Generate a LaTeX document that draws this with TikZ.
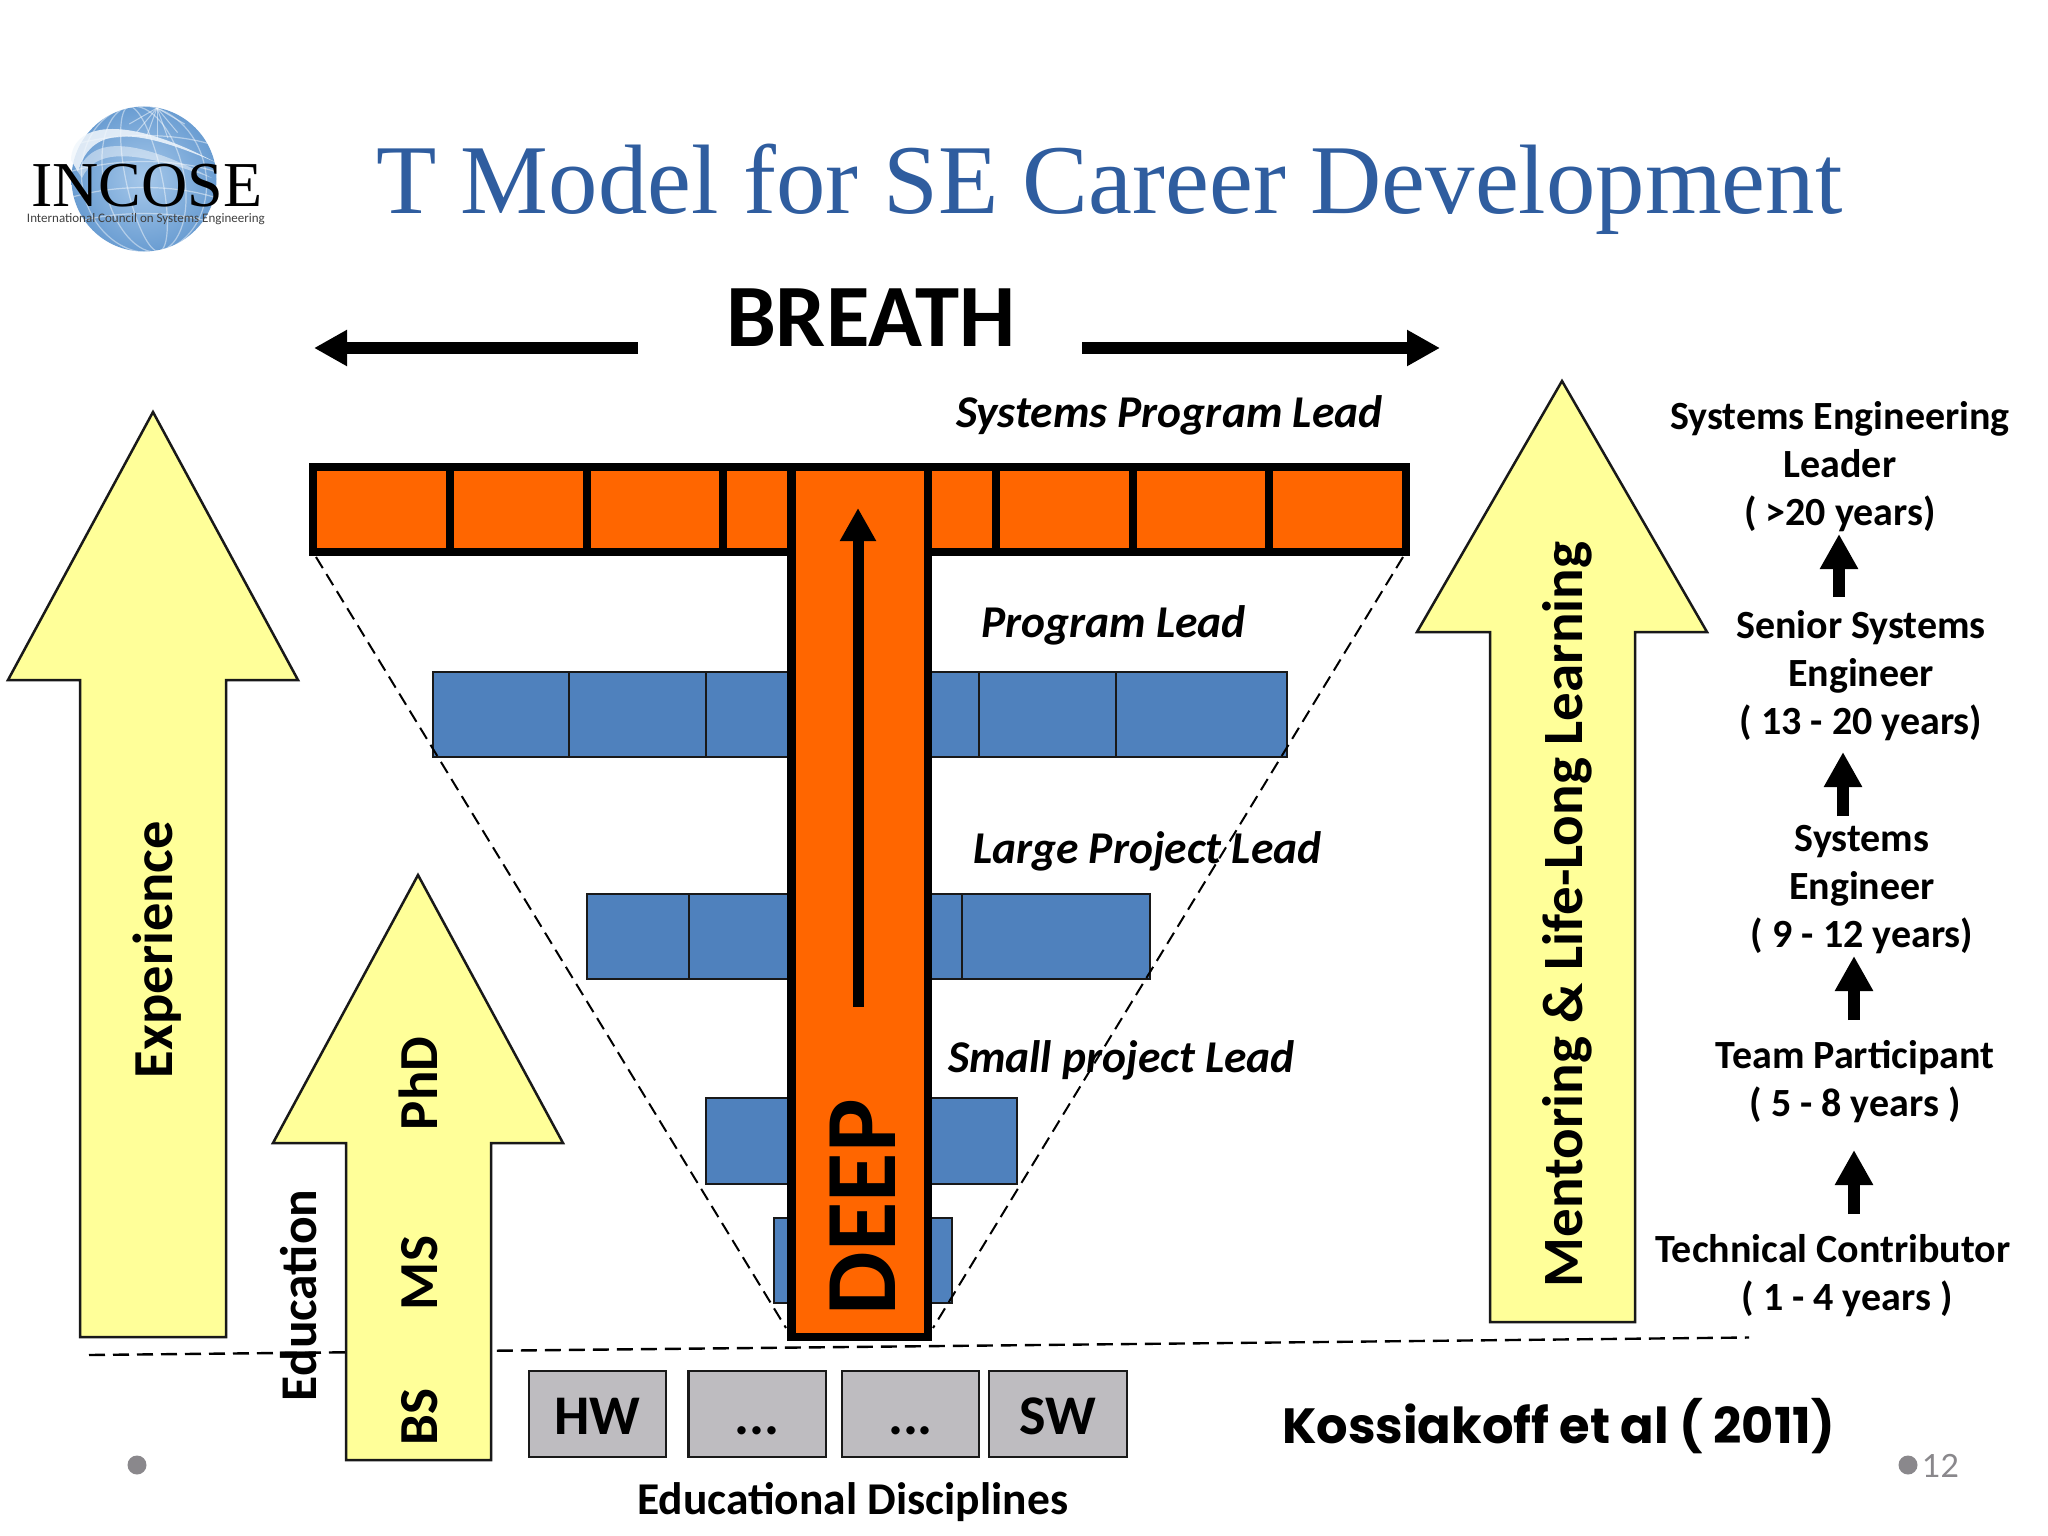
\documentclass[tikz,border=0pt]{standalone}
\usepackage{fontspec}
\setmainfont{Carlito}
\newfontfamily\titlefont{Liberation Serif}
\newfontfamily\kossfont{Poppins}
\newfontfamily\numfont{Lato}
\usetikzlibrary{arrows.meta}
\newcommand\fsz[2]{\fontsize{#1}{#2}\selectfont}
\definecolor{barorange}{HTML}{FF6600}
\definecolor{barblue}{HTML}{4F81BD}
\definecolor{yellowfill}{HTML}{FFFF99}
\definecolor{boxgrey}{HTML}{BEBCC0}
\definecolor{dotgrey}{HTML}{8A888C}
\definecolor{titleblue}{HTML}{2F5D9F}
\definecolor{globein}{HTML}{A6C8EA}
\definecolor{globeout}{HTML}{6A9DD2}
\tikzset{
  txt/.style={inner sep=0pt,outer sep=0pt,text=black},
  bigarrow/.style={draw=black!90,line width=2.5pt,fill=yellowfill,line join=miter},
  bluebar/.style={draw=black!90,line width=2.5pt,fill=barblue},
  bluediv/.style={draw=black!90,line width=2.5pt},
  orangeline/.style={draw=black,line width=8.5pt,line join=miter},
  thindash/.style={draw=black,line width=2pt,dash pattern=on 13pt off 7pt},
  basedash/.style={draw=black,line width=2.4pt,dash pattern=on 16pt off 8pt},
  rolelabel/.style={txt,anchor=base west,font=\bfseries\itshape\fsz{45.5}{54}},
  careerlabel/.style={txt,anchor=base,align=center,font=\bfseries\fsz{40}{48}},
  uparrow/.style={draw=black,line width=12.5pt,-{Triangle[length=35pt,width=36pt]}},
  breatharrow/.style={draw=black,line width=11.5pt,-{Triangle[length=33pt,width=34pt]}},
  greybox/.style={draw=black!90,line width=2.5pt,fill=boxgrey},
  boxlabel/.style={txt,anchor=base,font=\bfseries\fsz{56}{60}},
  armlabel/.style={txt,rotate=90,anchor=base west,font=\bfseries\fsz{55}{60}},
  griddraw/.style={draw=white,opacity=.45,line width=1.2pt}
}
\begin{document}
\begin{tikzpicture}[x=1pt,y=-1pt]
\useasboundingbox (0,0) rectangle (2048,1536);
\fill[white] (0,0) rectangle (2048,1536);

% logo
\shade[inner color=globein,outer color=globeout,draw=none] (144,179) circle (72.5);
\begin{scope}
\clip (144,179) circle (72.5);
\foreach \r in {18,40,62}{\draw[griddraw,rotate around={12:(144,179)}] (144,179) ellipse (\r pt and 74pt);}
\foreach \yy in {-40,-14,12,38}{\draw[griddraw] (60,179+\yy+10) .. controls (110,179+\yy-8) and (180,179+\yy-8) .. (225,179+\yy+10);}
\foreach \a in {-60,-40,-20,0,20,40,60}{\draw[white,opacity=.5,line width=1pt] (157,108) -- ++(\a+90:32);}
\end{scope}
\fill[white!85!globein,opacity=.85] (71,160) .. controls (72,125) and (120,112) .. (215,162) .. controls (130,125) and (90,128) .. (78,172) -- cycle;
\fill[white,opacity=.45] (78,172) .. controls (90,138) and (130,135) .. (212,178) .. controls (130,148) and (95,150) .. (82,178) -- cycle;
\node[txt,anchor=base west,font=\titlefont\fsz{64}{66}] (incose) at (31,206) {INCOSE};
\node[txt,anchor=base west,text=black!75,font=\fsz{13}{14}] (incosefull) at (27,222) {International Council on Systems Engineering};

% title
\node[txt,anchor=base west,text=titleblue,font=\titlefont\fsz{98.7}{100}] (title) at (376,213) {T Model for SE Career Development};

% breath
\node[txt,anchor=base west,font=\bfseries\fsz{89}{90}] (breath) at (726,346) {BREATH};
\coordinate (bls) at (638,348); \coordinate (ble) at (314,348);
\coordinate (brs) at (1082,348); \coordinate (bre) at (1440,348);
\draw[breatharrow] (bls) -- (ble);
\draw[breatharrow] (brs) -- (bre);

% yellow arrows
\draw[bigarrow] (153,412) -- (298,680) -- (226,680) -- (226,1337) -- (80,1337) -- (80,680) -- (8,680) -- cycle;
\draw[bigarrow] (1562,381) -- (1707,632) -- (1635,632) -- (1635,1322) -- (1490,1322) -- (1490,632) -- (1417,632) -- cycle;

% base dashed line
\coordinate (bdl) at (89,1355); \coordinate (bdr) at (1749,1337.5);
\draw[basedash] (bdl) -- (bdr);

\draw[bigarrow] (418,875) -- (563,1143) -- (491,1143) -- (491,1460) -- (346,1460) -- (346,1143) -- (273,1143) -- cycle;

% blue bars
\draw[bluebar] (433,672) rectangle (1287,757);
\foreach \x in {569,706,979,1116}{\draw[bluediv] (\x,672) -- (\x,757);}
\draw[bluebar] (587,894) rectangle (1150,979);
\foreach \x in {689,962}{\draw[bluediv] (\x,894) -- (\x,979);}
\draw[bluebar] (706,1098) rectangle (1017,1184);
\draw[bluebar] (774,1218) rectangle (952,1303);

% funnel dashed
\coordinate (fl1) at (316,557); \coordinate (fl2) at (786,1328);
\coordinate (fr1) at (1403,557); \coordinate (fr2) at (933,1328);
\draw[thindash] (fl1) -- (fl2);
\draw[thindash] (fr1) -- (fr2);

% T
\draw[orangeline,fill=barorange] (313,467) rectangle (1406,552);
\foreach \x in {450,587,723,996,1133,1269}{\draw[orangeline] (\x,467) -- (\x,552);}
\draw[orangeline,fill=barorange] (791.5,467) rectangle (928,1337);
\coordinate (ds) at (858,1007); \coordinate (de) at (858,508);
\draw[draw=black,line width=11pt,-{Triangle[length=33pt,width=34pt]}] (ds) -- (de);
\node[txt,rotate=90,anchor=base west,font=\bfseries\fsz{101}{104}] (deep) at (895,1315) {DEEP};

% role labels
\node[rolelabel] (rl1) at (956,427) {Systems Program Lead};
\node[rolelabel] (rl2) at (981,637) {Program Lead};
\node[rolelabel] (rl3) at (973,863) {Large Project Lead};
\node[rolelabel] (rl4) at (948,1072) {Small project Lead};

% rotated labels
\node[armlabel,font=\bfseries\fsz{56.5}{60}] (exp) at (172.5,1078) {Experience};
\node[armlabel] (phd) at (437.5,1130) {PhD};
\node[armlabel] (ms) at (437.5,1310) {MS};
\node[armlabel] (bs) at (437.5,1445) {BS};
\node[armlabel,font=\bfseries\fsz{51.5}{56}] (edu) at (316,1401) {Education};
\node[armlabel,font=\bfseries\fsz{57}{60}] (ment) at (1582.5,1287) {Mentoring \& Life-Long Learning};

% career ladder
\node[careerlabel] (c5) at (1840,525) {Systems Engineering\\Leader\\( >20 years)};
\node[careerlabel] (c4) at (1861,734) {Senior Systems\\Engineer\\( 13 - 20 years)};
\node[careerlabel] (c3) at (1862,947) {Systems\\Engineer\\( 9 - 12 years)};
\node[careerlabel] (c2) at (1855,1116) {Team Participant\\( 5 - 8 years )};
\node[careerlabel] (c1) at (1833,1310) {Technical Contributor\\\hspace*{28pt}( 1 - 4 years )};
\coordinate (a4s) at (1839,597); \coordinate (a4e) at (1839,534);
\coordinate (a3s) at (1843,816); \coordinate (a3e) at (1843,752);
\coordinate (a2s) at (1854,1020); \coordinate (a2e) at (1854,956);
\coordinate (a1s) at (1854,1214); \coordinate (a1e) at (1854,1150);
\draw[uparrow] (a4s) -- (a4e);
\draw[uparrow] (a3s) -- (a3e);
\draw[uparrow] (a2s) -- (a2e);
\draw[uparrow] (a1s) -- (a1e);

% disciplines
\draw[greybox] (529,1371) rectangle (666,1457);
\draw[greybox] (688.5,1371) rectangle (826,1457);
\draw[greybox] (842,1371) rectangle (979,1457);
\draw[greybox] (989,1371) rectangle (1127,1457);
\node[boxlabel] (hw) at (597.5,1434) {HW};
\node[boxlabel] (d1) at (757,1434) {...};
\node[boxlabel] (d2) at (910.5,1434) {...};
\node[boxlabel] (sw) at (1058,1434) {SW};
\node[txt,anchor=base west,font=\bfseries\fsz{45.5}{48}] (edd) at (637,1514) {Educational Disciplines};

% citation
\node[txt,anchor=base west,font=\kossfont\bfseries\fsz{49.5}{52}] (koss) at (1282,1443) {Kossiakoff et al ( 2011)};

% footer
\fill[dotgrey] (137,1465) circle (9.5);
\fill[dotgrey] (1908,1465) circle (9.5);
\node[txt,anchor=base west,text=dotgrey,font=\numfont\fsz{32}{34}] (pg) at (1922,1477) {12};
\end{tikzpicture}
\end{document}
